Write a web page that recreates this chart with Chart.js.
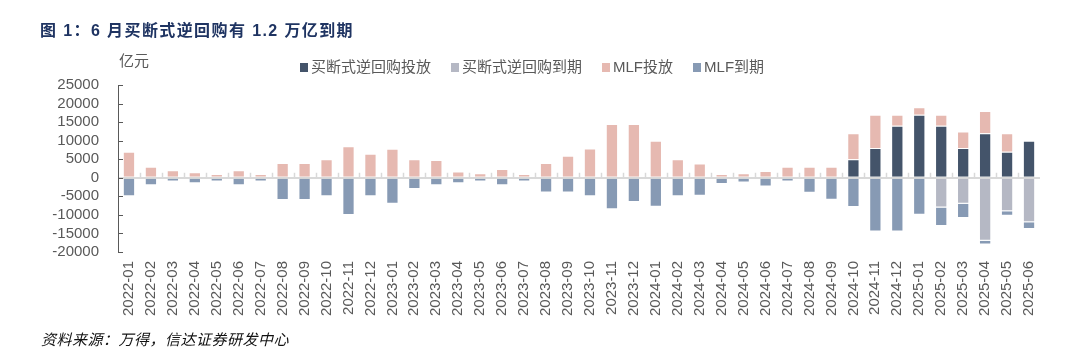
<!DOCTYPE html>
<html>
<head>
<meta charset="utf-8">
<script src="https://cdn.jsdelivr.net/npm/chart.js@4.4.1/dist/chart.umd.min.js"></script>
<style>
  html, body { margin: 0; padding: 0; background: #fff; }
  #wrap { position: relative; width: 1071px; height: 357px; overflow: hidden; }
  #c { position: absolute; left: 0; top: 0; }
  .txt { position: absolute; white-space: nowrap; font-family: "Liberation Sans", Arial, "Noto Sans CJK SC", sans-serif; }
  #title { left: 40px; top: 17px; font-size: 16px; font-weight: bold; color: #1F3462; letter-spacing: 1.4px; }
  #unit { left: 119px; top: 49px; font-size: 15px; color: #595959; }
  #src { left: 41px; top: 328px; font-size: 15px; font-style: italic; color: #111; letter-spacing: 0.5px; font-family: "Noto Sans CJK SC", sans-serif; }
  #legend { position: absolute; left: 300px; top: 58px; display: flex; align-items: center; font-size: 15px; color: #595959; line-height: 18px; }
  #legend .item { display: flex; align-items: center; margin-right: 20px; }
  #legend .box { width: 8px; height: 9px; margin-right: 3px; }
</style>
</head>
<body>
<div id="wrap">
  <canvas id="c" width="1071" height="357"></canvas>
  <div class="txt" id="title">图 1：6 月买断式逆回购有 1.2 万亿到期</div>
  <div class="txt" id="unit">亿元</div>
  <div class="txt" id="legend"></div>
  <div class="txt" id="src">资料来源：万得，信达证券研发中心</div>
</div>
<script>
const categories = [
  "2022-01","2022-02","2022-03","2022-04","2022-05","2022-06","2022-07","2022-08","2022-09","2022-10","2022-11","2022-12",
  "2023-01","2023-02","2023-03","2023-04","2023-05","2023-06","2023-07","2023-08","2023-09","2023-10","2023-11","2023-12",
  "2024-01","2024-02","2024-03","2024-04","2024-05","2024-06","2024-07","2024-08","2024-09","2024-10","2024-11","2024-12",
  "2025-01","2025-02","2025-03","2025-04","2025-05","2025-06"
];
// 买断式逆回购投放
const rrInject = [
  0,0,0,0,0,0,0,0,0,0,0,0,
  0,0,0,0,0,0,0,0,0,0,0,0,
  0,0,0,0,0,0,0,0,0,5000,8000,14000,
  17000,14000,8000,12000,7000,10000
];
// 买断式逆回购到期
const rrMature = [
  0,0,0,0,0,0,0,0,0,0,0,0,
  0,0,0,0,0,0,0,0,0,0,0,0,
  0,0,0,0,0,0,0,0,0,0,0,0,
  0,-8000,-7000,-17000,-9000,-12000
];
// MLF投放
const mlfInject = [
  7000,3000,2000,1500,1000,2000,1000,4000,4000,5000,8500,6500,
  7790,4990,4810,1700,1250,2370,1030,4010,5910,7890,14500,14500,
  9950,5000,3870,1000,1250,1820,3000,3000,3000,7000,9000,3000,
  2000,3000,4500,6000,5000,0
];
// MLF到期
const mlfMature = [
  -5000,-2000,-1000,-1500,-1000,-2000,-1000,-6000,-6000,-5000,-10000,-5000,
  -7000,-3000,-2000,-1500,-1000,-2000,-1000,-4000,-4000,-5000,-8500,-6500,
  -7790,-4990,-4810,-1700,-1250,-2370,-1030,-4010,-5910,-7890,-14500,-14500,
  -9950,-5000,-3870,-1000,-1250,-1820
];
const seriesNames = ['买断式逆回购投放', '买断式逆回购到期', 'MLF投放', 'MLF到期'];
const seriesColors = ['#44546A', '#B5B8C4', '#E6B9B1', '#879AB4'];
const yTicks = [-20000,-15000,-10000,-5000,0,5000,10000,15000,20000,25000];

const fontFam = '"Liberation Sans", Arial, "Noto Sans CJK SC", sans-serif';

const decor = {
  id: 'decor',
  beforeDatasetsDraw(chart) {
    const {ctx, scales: {x, y}} = chart;
    const y0 = y.getPixelForValue(0);
    ctx.save();
    ctx.strokeStyle = '#D9D9D9';
    ctx.lineWidth = 1.5;
    const half = (x.getPixelForValue(1) - x.getPixelForValue(0)) / 2;
    for (let i = 1; i < categories.length; i++) {
      const px = Math.round(x.getPixelForValue(i) - half) + 0.5;
      ctx.beginPath();
      ctx.moveTo(px, y0 - 5);
      ctx.lineTo(px, y0);
      ctx.stroke();
    }
    ctx.restore();
  },
  afterDraw(chart) {
    const {ctx, scales: {y}, chartArea} = chart;
    ctx.save();
    ctx.strokeStyle = '#595959';
    ctx.lineWidth = 1;
    yTicks.forEach(v => {
      const py = Math.round(y.getPixelForValue(v)) + 0.5;
      ctx.beginPath();
      ctx.moveTo(chartArea.left, py);
      ctx.lineTo(chartArea.left + 5, py);
      ctx.stroke();
    });
    ctx.restore();
  }
};

const barCommon = { barPercentage: 0.56, categoryPercentage: 1.0, borderWidth: 1, borderColor: 'rgba(255,255,255,0.55)' };
const seriesData = [rrInject, rrMature, mlfInject, mlfMature];

const chart = new Chart(document.getElementById('c'), {
  type: 'bar',
  data: {
    labels: categories,
    datasets: seriesData.map((d, i) => Object.assign({ label: seriesNames[i], data: d, backgroundColor: seriesColors[i] }, barCommon))
  },
  options: {
    responsive: false,
    animation: false,
    layout: { padding: { left: 0, right: 31, top: 85, bottom: 0 } },
    plugins: {
      legend: { display: false },
      tooltip: { enabled: false }
    },
    scales: {
      x: {
        stacked: true,
        offset: true,
        grid: { display: false, drawTicks: false },
        border: { display: false },
        ticks: {
          minRotation: 90, maxRotation: 90, autoSkip: false, padding: 9,
          color: '#595959', font: { size: 15, family: fontFam }
        },
        afterFit(scale) { scale.height = 105; }
      },
      y: {
        stacked: true,
        min: -20000, max: 25000,
        afterBuildTicks(scale) { scale.ticks = yTicks.map(v => ({ value: v })); },
        border: { display: true, color: '#595959', width: 1 },
        grid: {
          drawTicks: false,
          color: c => (c.tick && c.tick.value === 0) ? '#D9D9D9' : 'rgba(0,0,0,0)',
          lineWidth: c => (c.tick && c.tick.value === 0) ? 2 : 0
        },
        ticks: {
          autoSkip: false,
          padding: 19, color: '#595959',
          font: { size: 15, family: fontFam },
          callback: v => String(v)
        },
        afterFit(scale) { scale.width = 118; }
      }
    }
  },
  plugins: [decor]
});

// HTML legend built from the chart's datasets
const legendEl = document.getElementById('legend');
chart.data.datasets.forEach(ds => {
  const item = document.createElement('div');
  item.className = 'item';
  const box = document.createElement('span');
  box.className = 'box';
  box.style.background = ds.backgroundColor;
  const label = document.createElement('span');
  label.textContent = ds.label;
  item.appendChild(box);
  item.appendChild(label);
  legendEl.appendChild(item);
});
</script>
</body>
</html>
